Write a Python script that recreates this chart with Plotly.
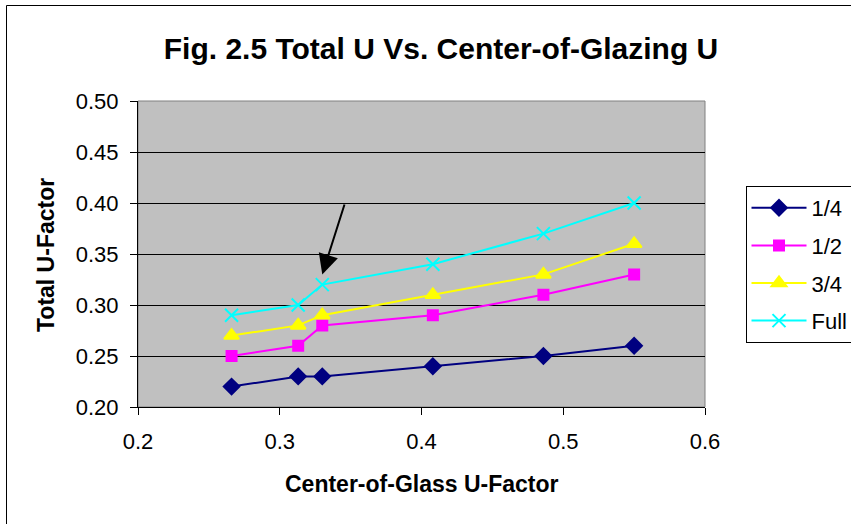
import plotly.graph_objects as go

# ---- data ----
center_glass_u = [0.266, 0.313, 0.330, 0.408, 0.486, 0.550]
series_names = ["1/4", "1/2", "3/4", "Full"]
u_quarter = [0.22, 0.23, 0.23, 0.24, 0.25, 0.26]
u_half = [0.25, 0.26, 0.28, 0.29, 0.31, 0.33]
u_three_quarter = [0.27, 0.28, 0.29, 0.31, 0.33, 0.36]
u_full = [0.29, 0.30, 0.32, 0.34, 0.37, 0.40]
x_ticks = [0.2, 0.3, 0.4, 0.5, 0.6]
y_ticks = [0.20, 0.25, 0.30, 0.35, 0.40, 0.45, 0.50]
arrow_tail = (0.346, 0.400)
arrow_tip = (0.330, 0.330)

W, H = 851, 524
L, R, T, B = 138, 146, 101, 117
PW, PH = W - L - R, H - T - B


def px_x(p):
    return (p - L) / PW


def px_y(p):
    return (H - B - p) / PH


FONT = "Liberation Sans, Arial, sans-serif"

styles = [
    dict(color="#000080", symbol="diamond", size=12, lw=2),
    dict(color="#FF00FF", symbol="square", size=10, lw=2),
    dict(color="#FFFF00", symbol="triangle-up", size=13, lw=2),
    dict(color="#00FFFF", symbol="x-thin-open", size=13, lw=2),
]
values = [u_quarter, u_half, u_three_quarter, u_full]

fig = go.Figure()
for name, vals, st in zip(series_names, values, styles):
    fig.add_trace(go.Scatter(
        x=center_glass_u, y=vals, name=name, mode="lines+markers",
        legendgroup=name,
        line=dict(color=st["color"], width=st["lw"]),
        marker=dict(symbol=st["symbol"], size=st["size"], color=st["color"],
                    line=dict(color=st["color"], width=2)),
    ))

fig.add_annotation(
    x=arrow_tip[0], y=arrow_tip[1], ax=arrow_tail[0], ay=arrow_tail[1],
    xref="x", yref="y", axref="x", ayref="y", text="", showarrow=True,
    arrowhead=2, arrowsize=2.0, arrowwidth=2, arrowcolor="black", standoff=0,
)

# plot area gray border
fig.add_shape(type="rect", xref="paper", yref="paper", x0=0, x1=1, y0=0, y1=1,
              line=dict(color="#808080", width=1), layer="below")
# outer chart border
fig.add_shape(type="rect", xref="paper", yref="paper",
              x0=px_x(6.5), x1=px_x(W + 10), y0=px_y(H + 10), y1=px_y(5.5),
              line=dict(color="black", width=1))

fig.add_annotation(text="<b>Total U-Factor</b>", xref="paper", yref="paper",
                   x=px_x(46), y=px_y(255), xanchor="center", yanchor="middle",
                   textangle=-90, showarrow=False,
                   font=dict(family=FONT, size=23, color="black"))
fig.add_annotation(text="<b>Center-of-Glass U-Factor</b>", xref="paper", yref="paper",
                   x=px_x(422), y=px_y(484), xanchor="center", yanchor="middle",
                   showarrow=False,
                   font=dict(family=FONT, size=23, color="black"))

fig.update_layout(
    width=W, height=H,
    margin=dict(l=L, r=R, t=T, b=B, autoexpand=False),
    paper_bgcolor="white", plot_bgcolor="#C0C0C0",
    title=dict(text="<b>Fig. 2.5 Total U Vs. Center-of-Glazing U</b>",
               x=441 / W, xanchor="center",
               y=1 - 48 / H, yanchor="middle", yref="container",
               font=dict(family=FONT, size=30, color="black")),
    font=dict(family=FONT, color="black"),
    showlegend=True,
    legend=dict(x=px_x(745.5), y=px_y(186), xanchor="left", yanchor="top",
                bordercolor="black", borderwidth=1, bgcolor="white",
                font=dict(family=FONT, size=22, color="black"),
                tracegroupgap=6, itemwidth=55),
    xaxis=dict(range=[0.2, 0.6], tickvals=x_ticks, ticktext=[f"{v:.1f}" for v in x_ticks],
               showgrid=False, zeroline=False, showline=True, linecolor="black", linewidth=1,
               ticks="outside", ticklen=7, tickcolor="black",
               tickfont=dict(family=FONT, size=22, color="black"), ticklabelstandoff=8),
    yaxis=dict(range=[0.2, 0.5], tickvals=y_ticks, ticktext=[f"{v:.2f}" for v in y_ticks],
               showgrid=True, gridcolor="black", gridwidth=1, zeroline=False,
               showline=True, linecolor="black", linewidth=1,
               ticks="outside", ticklen=7, tickcolor="black",
               tickfont=dict(family=FONT, size=22, color="black"), ticklabelstandoff=7),
)

fig.write_html("out.html", config={"displayModeBar": False},
               post_script="document.body.style.margin='0';")
